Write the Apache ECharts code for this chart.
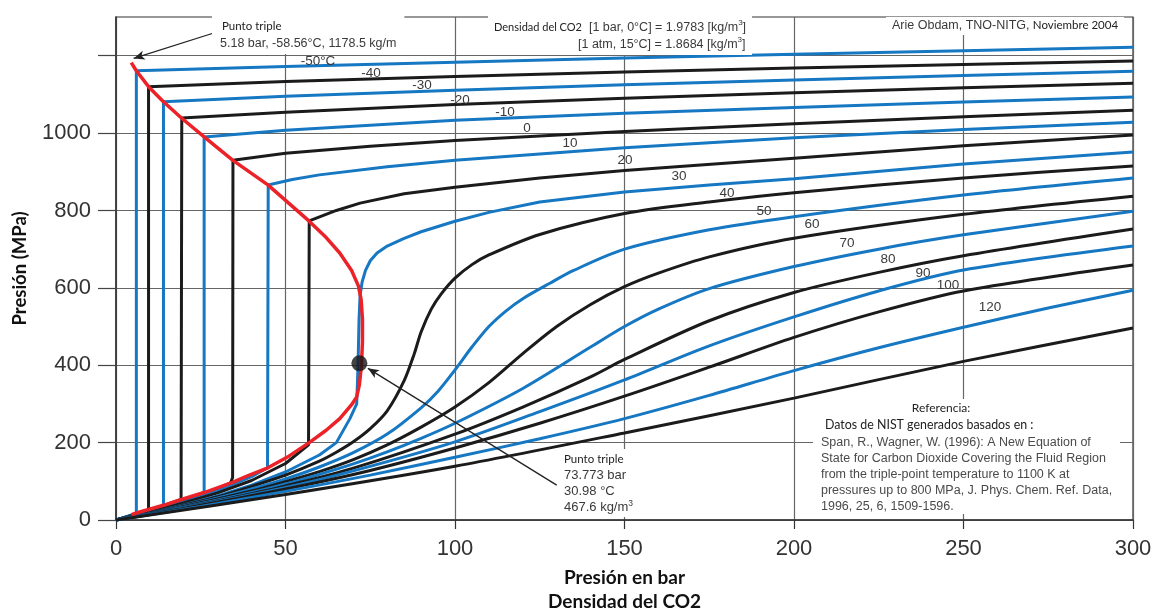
<!DOCTYPE html>
<html><head><meta charset="utf-8">
<script src="https://cdn.jsdelivr.net/npm/echarts@6/dist/echarts.min.js"></script>
<style>html,body{margin:0;padding:0;background:#fff}#c{width:1156px;height:611px}</style>
</head><body><div id="c"></div>
<script>
// ---- tick labels ----
const xTicks = [0, 50, 100, 150, 200, 250, 300];
const yTicks = [0, 200, 400, 600, 800, 1000];
const yTickMarks = [0, 200, 400, 600, 800, 1000, 1200];

// ---- isotherm labels (°C) ----
const isoLabels = ['-50°C','-40','-30','-20','-10','0','10','20','30','40','50','60','70','80','90','100','120',''];

// ---- isotherms: [pressure bar, density kg/m3] ----
const isoM50 = [[0,0],[2,5.5],[4,11.5],[6.0,18],[6.0,1161],[50,1172],[100,1183],[150,1194],[200,1204],[250,1213],[300,1222]];
const isoM40 = [[0,0],[3,8],[6,16],[9.6,27],[9.6,1120],[50,1133],[100,1146],[150,1158],[200,1168],[250,1177],[300,1186]];
const isoM30 = [[0,0],[5,12.5],[10,26],[14,38],[14,1081],[50,1095],[100,1111],[150,1125],[200,1137],[250,1149],[300,1160]];
const isoM20 = [[0,0],[5,12],[10,26],[15,40],[19.2,53],[19.4,1039],[50,1054],[100,1074],[150,1090],[200,1104],[250,1117],[300,1129]];
const isoM10 = [[0,0],[5,11.5],[10,24],[15,38],[20,52],[26,71],[26,990],[50,1007],[100,1033],[150,1051],[200,1066],[250,1080],[300,1093]];
const iso0   = [[0,0],[10,23],[20,49],[30,81],[33.8,96],[34.4,110],[34.5,930],[50,948],[75,966],[100,981],[150,1004],[200,1024],[250,1042],[300,1059]];
const iso10  = [[0,0],[10,22],[20,46],[30,75],[40,112],[44.7,135],[44.9,866],[52,880],[60,892],[80,913],[100,930],[150,962],[200,988],[250,1009],[300,1028]];
const iso20  = [[0,0],[10,21],[20,44],[30,70],[40,102],[50,146],[56.8,194],[57,773],[65,800],[72,819],[85,843],[100,860],[125,884],[150,903],[200,935],[250,967],[300,995]];
const iso30  = [[0,0],[10,18.5],[20,39],[30,62],[40,90],[50,124],[60,168],[65,200],[69,262],[71,300],[71.4,400],[71.7,520],[72,580],[72.6,615],[73.6,645],[75,670],[77,690],[80,708],[85,728],[90,745],[100,772],[110,795],[125,822],[150,848],[175,866],[200,882],[250,920],[300,951]];
const iso40  = [[0,0],[10,18],[20,38],[30,60],[40,87],[50,116],[60,152],[65,175],[70,202],[75,236],[80,282],[85,360],[88,430],[90,486],[93,545],[96,585],[100,625],[105,660],[110,685],[125,738],[150,792],[175,822],[200,846],[250,884],[300,915]];
const iso50  = [[0,0],[10,17],[20,36],[30,57],[40,80],[50,106],[60,137],[70,174],[80,222],[90,290],[95,333],[100,388],[105,447],[110,500],[115,540],[120,572],[128,612],[135,645],[150,700],[175,750],[200,784],[250,840],[300,884]];
const iso60  = [[0,0],[20,35],[40,75],[50,99],[60,125],[70,156],[80,194],[90,240],[100,292],[110,355],[120,430],[130,500],[140,557],[150,603],[160,638],[175,680],[200,728],[250,790],[300,837]];
const iso70  = [[0,0],[20,33],[40,71],[50,93],[60,118],[70,145],[80,176],[90,211],[100,250],[120,340],[140,447],[150,500],[160,545],[175,598],[200,655],[225,700],[250,737],[300,798]];
const iso80  = [[0,0],[20,32],[40,68],[50,88],[70,134],[100,222],[120,292],[140,370],[150,415],[175,515],[200,588],[225,640],[250,683],[300,752]];
const iso90  = [[0,0],[20,31],[50,84],[70,127],[100,202],[125,280],[150,362],[175,450],[200,525],[225,592],[250,646],[300,708]];
const iso100 = [[0,0],[20,30],[50,80],[75,128],[100,186],[125,250],[150,320],[175,395],[200,472],[225,538],[250,592],[300,659]];
const iso120 = [[0,0],[25,35],[50,74],[75,116],[100,162],[125,210],[150,262],[175,322],[200,386],[225,445],[250,498],[275,548],[300,594]];
const iso150 = [[0,0],[50,66],[100,139],[150,225],[200,315],[250,410],[300,496]];

const isotherms = [isoM50, isoM40, isoM30, isoM20, isoM10, iso0, iso10, iso20, iso30, iso40, iso50, iso60, iso70, iso80, iso90, iso100, iso120, iso150];
const isoNames = ['-50','-40','-30','-20','-10','0','10','20','30','40','50','60','70','80','90','100','120','150'];

// ---- saturation curve (liquid branch, critical region, vapour branch) ----
const saturation = [[4.5,1182],[6.0,1161],[9.6,1120],[14.0,1081],[19.3,1039],[26,990],[34.4,930],[44.8,866],[56.9,773],[62,730],[66,690],[69.5,645],[71.5,605],[72.3,570],[72.7,520],[72.7,460],[72.4,400],[71.8,350],[71,318],[69.5,298],[66,262],[62,232],[57,200],[51,165],[44.8,135],[39,115],[34.4,97],[26,71],[19.3,53],[14,38],[9.6,27],[6,18],[4.6,14]];
const criticalPoint = [[71.8, 405]];

// ---- arrows (data coordinates) ----
const arrowTriple = [[28.6, 1258], [5.2, 1193]];
const arrowCritical = [[130, 90], [74.3, 392]];

const BLUE = '#1677c2', BLACK = '#1b1b1b', RED = '#ec2229';
const GRID = '#666';

const series = isotherms.map((d, i) => ({
  name: isoNames[i], type: 'line', data: d, showSymbol: false, symbol: 'none',
  lineStyle: { color: i % 2 === 0 ? BLUE : BLACK, width: 3 },
  smooth: i >= 9 ? 0.3 : false,
  z: 2, silent: true, animation: false
}));
series.push({
  name: 'sat', type: 'line', data: saturation, showSymbol: false, symbol: 'none',
  lineStyle: { color: RED, width: 3.5 }, z: 3, silent: true, animation: false
});
series.push({
  name: 'crit', type: 'scatter', data: criticalPoint, symbolSize: 16,
  itemStyle: { color: '#151515' }, z: 4, silent: true, animation: false,
  markLine: {
    silent: true, animation: false, symbol: ['none', 'arrow'], symbolSize: [7, 11],
    label: { show: false },
    lineStyle: { color: '#222', width: 1.3, type: 'solid' },
    data: [
      [{ coord: arrowTriple[0] }, { coord: arrowTriple[1] }],
      [{ coord: arrowCritical[0] }, { coord: arrowCritical[1] }]
    ]
  }
});

const SANS = '"Liberation Sans", Arial, sans-serif';
const CAL = 'Lato, "Open Sans", sans-serif';
const TXT = '#3a3a3a';

// isotherm label pixel placements
const labelPos = [[318,61],[371,73],[422,85],[460,100],[505,112],[527,128],[570,143],[625,160],[679,176],[727,193],[764,211],[812,224],[847,243],[888,259],[923,273],[948,285],[990,307]];
const graphics = [];
labelPos.forEach((p, i) => {
  graphics.push({ type: 'text', x: p[0], y: p[1], z: 50,
    style: { text: isoLabels[i], font: '13.5px ' + SANS, fill: TXT, align: 'center', verticalAlign: 'middle' } });
});
// top-left triple point note
graphics.push({ type: 'text', x: 212, y: 16, z: 50, style: {
  text: '{a|Punto triple}\n{b|5.18 bar, -58.56°C, 1178.5 kg/m}', backgroundColor: '#fff', padding: [2, 8, 2, 8],
  rich: { a: { fontFamily: CAL, fontSize: 11.5, fill: '#222', lineHeight: 17, padding: [0,0,0,2] }, b: { fontFamily: SANS, fontSize: 12.5, fill: TXT, lineHeight: 17 } } } });
// top centre density note
graphics.push({ type: 'text', x: 488, y: 16, z: 50, style: {
  text: '{a|Densidad del CO2}{b|  [1 bar, 0°C] = 1.9783 [kg/m}{s|3}{b|]}\n{p|}{b|[1 atm, 15°C] = 1.8684 [kg/m}{s|3}{b|]}',
  backgroundColor: '#fff', padding: [3, 6, 2, 6],
  rich: { a: { fontFamily: CAL, fontSize: 11, fill: '#222', lineHeight: 17 },
          b: { fontFamily: SANS, fontSize: 12.5, fill: TXT, lineHeight: 17 },
          s: { fontFamily: SANS, fontSize: 8, fill: TXT, verticalAlign: 'top', lineHeight: 17 },
          p: { width: 84, lineHeight: 17 } } } });
// top right author note
graphics.push({ type: 'text', x: 886, y: 17, z: 50, style: {
  text: '{b|Arie Obdam, TNO-NITG,} {a|Noviembre 2004}', backgroundColor: '#fff', padding: [2, 6, 3, 6],
  rich: { a: { fontFamily: CAL, fontSize: 11.5, fill: '#222' }, b: { fontFamily: SANS, fontSize: 12.5, fill: TXT } } } });
// critical point note
graphics.push({ type: 'text', x: 558, y: 449, z: 50, style: {
  text: '{a|Punto triple}\n{b|73.773 bar}\n{b|30.98 °C}\n{b|467.6 kg/m}{s|3}', backgroundColor: '#fff', padding: [2, 6, 2, 6],
  rich: { a: { fontFamily: CAL, fontSize: 11.5, fill: '#222', lineHeight: 16 },
          b: { fontFamily: SANS, fontSize: 13, fill: TXT, lineHeight: 16 },
          s: { fontFamily: SANS, fontSize: 8.5, fill: TXT, verticalAlign: 'top', lineHeight: 16 } } } });
// reference box
graphics.push({ type: 'rect', z: 49, shape: { x: 813, y: 399, width: 307, height: 115 }, style: { fill: '#fff' } });
graphics.push({ type: 'text', x: 941, y: 408, z: 50, style: { text: 'Referencia:', font: '12px ' + CAL, fill: '#222', align: 'center', verticalAlign: 'middle' } });
graphics.push({ type: 'text', x: 825, y: 425, z: 50, style: { text: 'Datos de NIST generados basados en :', font: '12.4px ' + CAL, fill: '#222', verticalAlign: 'middle' } });
const refLines = ['Span, R., Wagner, W. (1996): A New Equation of', 'State for Carbon Dioxide Covering the Fluid Region', 'from the triple-point temperature to 1100 K at', 'pressures up to 800 MPa, J. Phys. Chem. Ref. Data,', '1996, 25, 6, 1509-1596.'];
refLines.forEach((t, i) => {
  graphics.push({ type: 'text', x: 821, y: 443 + i * 15.8, z: 50, style: { text: t, font: '12.5px ' + SANS, fill: '#4a4a4a', verticalAlign: 'middle' } });
});

const chart = echarts.init(document.getElementById('c'), null, { renderer: 'canvas' });
chart.setOption({
  animation: false,
  backgroundColor: '#fff',
  grid: { left: 116, right: 23, top: 17, bottom: 91, show: true, borderColor: '#333', borderWidth: 1.2, containLabel: false, outerBoundsMode: 'none' },
  xAxis: {
    type: 'value', min: 0, max: 300, interval: 25,
    name: 'Presión en bar\nDensidad del CO2', nameLocation: 'middle', nameGap: 46,
    nameTextStyle: { fontFamily: CAL, fontWeight: 'bold', fontSize: 19, color: '#111', lineHeight: 24, verticalAlign: 'top' },
    axisLine: { show: true, lineStyle: { color: '#333', width: 1.5 } },
    axisTick: { show: true, customValues: xTicks, length: 9, inside: false, lineStyle: { color: '#333', width: 1.2 } },
    axisLabel: { customValues: xTicks, formatter: v => String(v), fontFamily: SANS, fontSize: 22, color: '#333', margin: 18 },
    splitLine: { show: true, lineStyle: { color: GRID, width: 1.2 } }
  },
  yAxis: {
    type: 'value', min: 0, max: 1300, interval: 100,
    name: 'Presión (MPa)', nameLocation: 'middle', nameGap: 86, nameRotate: 90,
    nameTextStyle: { fontFamily: CAL, fontWeight: 'bold', fontSize: 18.5, color: '#111' },
    axisLine: { show: true, lineStyle: { color: '#333', width: 1.5 } },
    axisTick: { show: true, customValues: yTickMarks, length: 18, lineStyle: { color: '#444', width: 1.2 } },
    axisLabel: { customValues: yTicks, formatter: v => String(v), fontFamily: SANS, fontSize: 22, color: '#333', margin: 25 },
    splitLine: { show: true, lineStyle: { color: GRID, width: 1.2 } }
  },
  series: series,
  graphic: graphics
});
</script></body></html>
